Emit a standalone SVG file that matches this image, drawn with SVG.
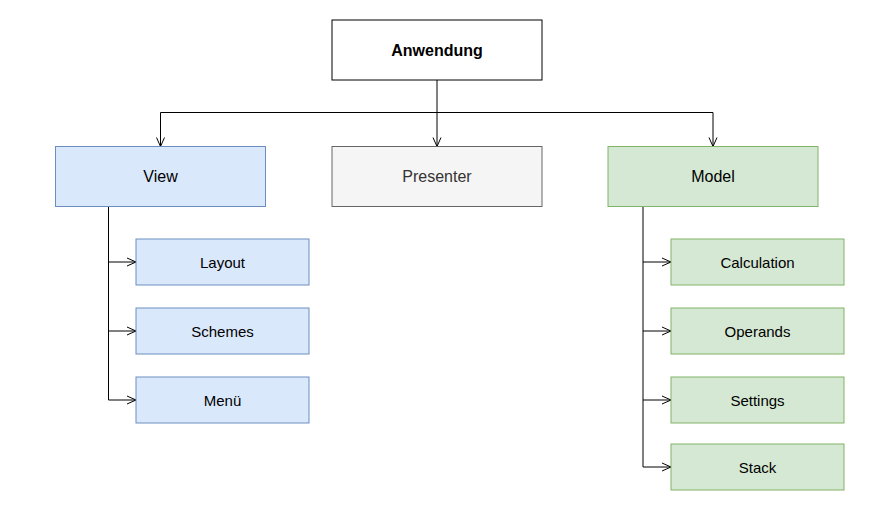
<svg xmlns="http://www.w3.org/2000/svg" width="886" height="517" viewBox="0 0 886 517">
<style>
text{font-family:"Liberation Sans",Arial,sans-serif;text-anchor:middle;dominant-baseline:central;fill:#000}
.big{font-size:16px}
.small{font-size:15px}
.blue{fill:#dae8fc;stroke:#6c8ebf;stroke-width:1}
.green{fill:#d5e8d4;stroke:#82b366;stroke-width:1}
.grey{fill:#f5f5f5;stroke:#666666;stroke-width:1}
.white{fill:#ffffff;stroke:#000000;stroke-width:1}
.edge{fill:none;stroke:#000;stroke-width:1}
</style>
<defs>
<marker id="arr" viewBox="0 0 10 10" refX="10" refY="5" markerWidth="10" markerHeight="10" markerUnits="userSpaceOnUse" orient="auto">
<path d="M1,1 L10,5 L1,9" fill="none" stroke="#000" stroke-width="1"/>
</marker>
</defs>
<rect width="886" height="517" fill="#ffffff"/>
<g id="connectors">
<path class="edge" d="M437,80 V112.5 H160.5 V146.5" marker-end="url(#arr)"/>
<path class="edge" d="M437,112.5 V146.5" marker-end="url(#arr)"/>
<path class="edge" d="M437,112.5 H713 V146.5" marker-end="url(#arr)"/>
<path class="edge" d="M108.5,206.5 V262 H136" marker-end="url(#arr)"/>
<path class="edge" d="M108.5,262 V331 H136" marker-end="url(#arr)"/>
<path class="edge" d="M108.5,331 V400 H136" marker-end="url(#arr)"/>
<path class="edge" d="M643,206.5 V262 H671" marker-end="url(#arr)"/>
<path class="edge" d="M643,262 V331 H671" marker-end="url(#arr)"/>
<path class="edge" d="M643,331 V400 H671" marker-end="url(#arr)"/>
<path class="edge" d="M643,400 V467 H671" marker-end="url(#arr)"/>
</g>
<g id="anwendung"><rect class="white" x="332" y="20" width="210" height="60"/><text class="big" x="437" y="50" font-weight="bold">Anwendung</text></g>
<g id="view"><rect class="blue" x="55.5" y="146.5" width="210" height="60"/><text class="big" x="160.5" y="176.5">View</text></g>
<g id="presenter"><rect class="grey" x="332" y="146.5" width="210" height="60"/><text class="big" x="437" y="176.5" style="fill:#333333">Presenter</text></g>
<g id="model"><rect class="green" x="608" y="146.5" width="210" height="60"/><text class="big" x="713" y="176.5">Model</text></g>
<g id="layout"><rect class="blue" x="136" y="239" width="173" height="46"/><text class="small" x="222.5" y="262">Layout</text></g>
<g id="schemes"><rect class="blue" x="136" y="308" width="173" height="46"/><text class="small" x="222.5" y="331">Schemes</text></g>
<g id="menu"><rect class="blue" x="136" y="377" width="173" height="46"/><text class="small" x="222.5" y="400">Menü</text></g>
<g id="calculation"><rect class="green" x="671" y="239" width="173" height="46"/><text class="small" x="757.5" y="262">Calculation</text></g>
<g id="operands"><rect class="green" x="671" y="308" width="173" height="46"/><text class="small" x="757.5" y="331">Operands</text></g>
<g id="settings"><rect class="green" x="671" y="377" width="173" height="46"/><text class="small" x="757.5" y="400">Settings</text></g>
<g id="stack"><rect class="green" x="671" y="444" width="173" height="46"/><text class="small" x="757.5" y="467">Stack</text></g>
</svg>
